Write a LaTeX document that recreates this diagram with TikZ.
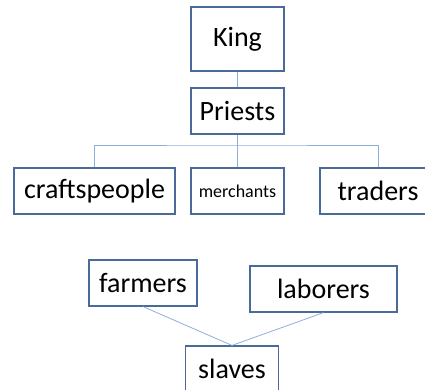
\documentclass[tikz,border=0pt]{standalone}
\usepackage{fontspec}
\setmainfont{Carlito}
\usepackage{tikz}
\usetikzlibrary{positioning}

\begin{document}
\begin{tikzpicture}[
    x=1pt, y=-1pt,
    rank/.style={rectangle, draw=boxblue, line width=1.2pt, fill=white, inner sep=0pt, minimum height=46pt, text centered, font=\fontsize{28}{30}\selectfont},
    link/.style={draw=linkblue, line width=0.8pt}
]
    \definecolor{boxblue}{HTML}{4A6A99}
    \definecolor{linkblue}{HTML}{8EAEDB}
    \clip (0,0) rectangle (425,389);
    \useasboundingbox (0,0) rectangle (425,389);

    % Top
    \node[rank, minimum width=93pt, minimum height=64pt] (king) at (237.5,39) {King};
    \node[rank, minimum width=93pt] (priests) at (237.5,111) {Priests};

    % Middle row
    \node[rank, minimum width=161pt] (crafts) at (94.5,191) {craftspeople};
    \node[rank, minimum width=93pt, font=\fontsize{18}{20}\selectfont] (merchants) at (237.5,191) {merchants};
    \node[rank, minimum width=116pt] (traders) at (378,191) {traders};

    % Bottom group
    \node[rank, minimum width=108pt] (farmers) at (143,283) {farmers};
    \node[rank, minimum width=147pt] (laborers) at (323.5,289) {laborers};
    \node[rank, minimum width=93pt] (slaves) at (232,369) {slaves};

    % Links
    \path[link] (king) -- (priests);
    \path[link] (priests) -- (merchants);
    \path[link] (crafts.north) |- (priests.south |- 0,145) -| (traders.north);
    \path[link] (farmers.south) -- (slaves.north);
    \path[link] (laborers.south) -- (slaves.north);
\end{tikzpicture}
\end{document}
